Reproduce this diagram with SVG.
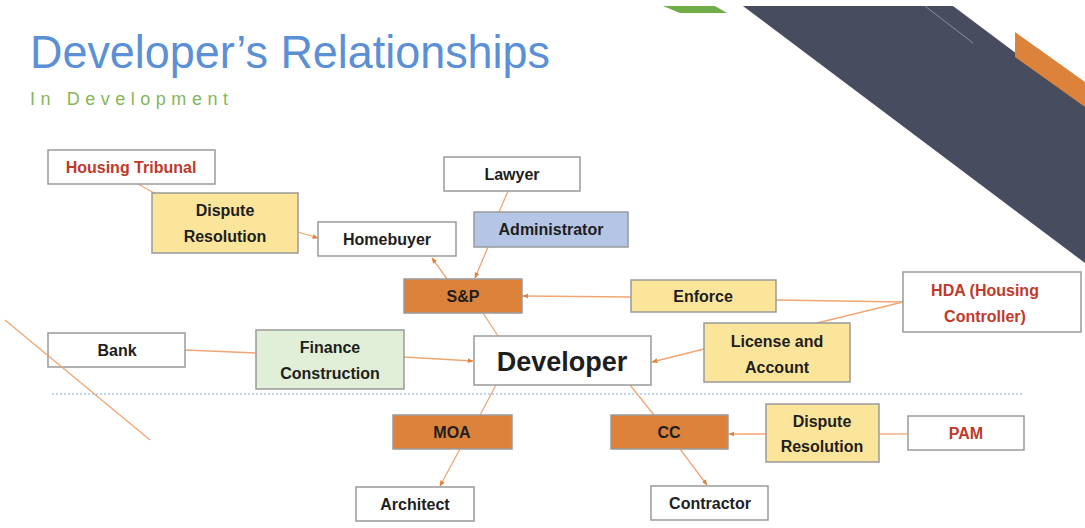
<svg xmlns="http://www.w3.org/2000/svg" width="1085" height="528" viewBox="0 0 1085 528">
<defs>
<marker id="ah" viewBox="0 0 10 10" refX="9" refY="5" markerWidth="6" markerHeight="6" orient="auto" markerUnits="userSpaceOnUse">
<path d="M0,1 L10,5 L0,9 z" fill="#e0803a"/>
</marker>
<style>
.box{stroke:#9a9a9a;stroke-width:1.5;}
.w{fill:#ffffff;}
.y{fill:#fbe59a;}
.o{fill:#dc823b;}
.b{fill:#b4c5e6;}
.g{fill:#e1efd8;}
.t{font-family:"Liberation Sans",Arial,sans-serif;font-weight:bold;font-size:16px;fill:#1e1e1e;text-anchor:middle;}
.r{fill:#c0392b;}
.c{stroke:#f0a673;stroke-width:1.3;fill:none;}
.ca{stroke:#f0a673;stroke-width:1.3;fill:none;marker-end:url(#ah);}
</style>
</defs>
<rect width="1085" height="528" fill="#ffffff"/>
<g id="decor">
<polygon points="743,6 953,6 1085,105 1085,263" fill="#474c5f"/>
<line x1="925" y1="6" x2="973" y2="43" stroke="#8a8f9e" stroke-width="1"/>
<polygon points="1015,32 1085,82 1085,107 1015,57" fill="#dc823b"/>
<polygon points="663,6 715,6 727,13 680,13" fill="#70ad47"/>
<line x1="52" y1="394" x2="1022" y2="394" stroke="#a9c6e8" stroke-width="1.5" stroke-dasharray="2,2"/>
</g>
<g id="title">
<text x="30" y="68" font-family="Liberation Sans,Arial,sans-serif" font-size="46" fill="#5b8fd6" textLength="520" lengthAdjust="spacingAndGlyphs">Developer’s Relationships</text>
<text x="30" y="105" font-family="Liberation Sans,Arial,sans-serif" font-size="18" fill="#84b65a" textLength="198" lengthAdjust="spacing">In Development</text>
</g>
<g id="connectors">
<line class="c" x1="138" y1="184" x2="156" y2="194"/>
<line class="ca" x1="298" y1="232" x2="318" y2="238"/>
<line class="ca" x1="447" y1="279" x2="432" y2="258"/>
<line class="c" x1="508" y1="191" x2="499" y2="212"/>
<line class="ca" x1="488" y1="247" x2="475" y2="278"/>
<line class="ca" x1="631" y1="297" x2="523" y2="296"/>
<line class="c" x1="903" y1="302" x2="776" y2="300"/>
<line class="c" x1="903" y1="302" x2="817" y2="323"/>
<line class="ca" x1="704" y1="349" x2="652" y2="362"/>
<line class="c" x1="483" y1="313" x2="498" y2="336"/>
<line class="c" x1="185" y1="350" x2="256" y2="353"/>
<line class="ca" x1="404" y1="357" x2="473" y2="361"/>
<line class="c" x1="496" y1="385" x2="480" y2="415"/>
<line class="ca" x1="460" y1="449" x2="440" y2="486"/>
<line class="c" x1="630" y1="385" x2="654" y2="415"/>
<line class="ca" x1="680" y1="449" x2="707" y2="485"/>
<line class="ca" x1="766" y1="434" x2="729" y2="434"/>
<line class="c" x1="908" y1="434" x2="879" y2="434"/>
</g>
<g id="housing-tribunal"><rect class="box w" x="48" y="150" width="167" height="34"/><text class="t r" x="131" y="173">Housing Tribunal</text></g>
<g id="dispute-top"><rect class="box y" x="152" y="193" width="146" height="60"/><text class="t" x="225" y="216">Dispute</text><text class="t" x="225" y="242">Resolution</text></g>
<g id="homebuyer"><rect class="box w" x="318" y="222" width="138" height="34"/><text class="t" x="387" y="245">Homebuyer</text></g>
<g id="lawyer"><rect class="box w" x="444" y="157" width="136" height="34"/><text class="t" x="512" y="180">Lawyer</text></g>
<g id="administrator"><rect class="box b" x="474" y="212" width="154" height="35"/><text class="t" x="551" y="235">Administrator</text></g>
<g id="sp"><rect class="box o" x="404" y="279" width="118" height="34"/><text class="t" x="463" y="302">S&amp;P</text></g>
<g id="enforce"><rect class="box y" x="631" y="280" width="145" height="32"/><text class="t" x="703" y="302">Enforce</text></g>
<g id="hda"><rect class="box w" x="903" y="272" width="178" height="60"/><text class="t r" x="985" y="296">HDA (Housing</text><text class="t r" x="985" y="322">Controller)</text></g>
<g id="bank"><rect class="box w" x="48" y="333" width="137" height="34"/><text class="t" x="117" y="356">Bank</text></g>
<g id="finance"><rect class="box g" x="256" y="330" width="148" height="59"/><text class="t" x="330" y="353">Finance</text><text class="t" x="330" y="379">Construction</text></g>
<g id="developer"><rect class="box w" x="474" y="336" width="177" height="49"/><text class="t" x="562" y="371" style="font-size:27px">Developer</text></g>
<g id="license"><rect class="box y" x="704" y="323" width="146" height="59"/><text class="t" x="777" y="347">License and</text><text class="t" x="777" y="373">Account</text></g>
<g id="moa"><rect class="box o" x="393" y="415" width="119" height="34"/><text class="t" x="452" y="438">MOA</text></g>
<g id="cc"><rect class="box o" x="611" y="415" width="117" height="34"/><text class="t" x="669" y="438">CC</text></g>
<g id="dispute-bottom"><rect class="box y" x="766" y="404" width="113" height="58"/><text class="t" x="822" y="427">Dispute</text><text class="t" x="822" y="452">Resolution</text></g>
<g id="pam"><rect class="box w" x="908" y="416" width="116" height="34"/><text class="t r" x="966" y="439">PAM</text></g>
<g id="architect"><rect class="box w" x="356" y="487" width="118" height="34"/><text class="t" x="415" y="510">Architect</text></g>
<g id="contractor"><rect class="box w" x="651" y="486" width="117" height="34"/><text class="t" x="710" y="509">Contractor</text></g>
<g id="decor-line"><line x1="5" y1="320" x2="150" y2="440" stroke="#f0a673" stroke-width="1.3"/></g>
</svg>
